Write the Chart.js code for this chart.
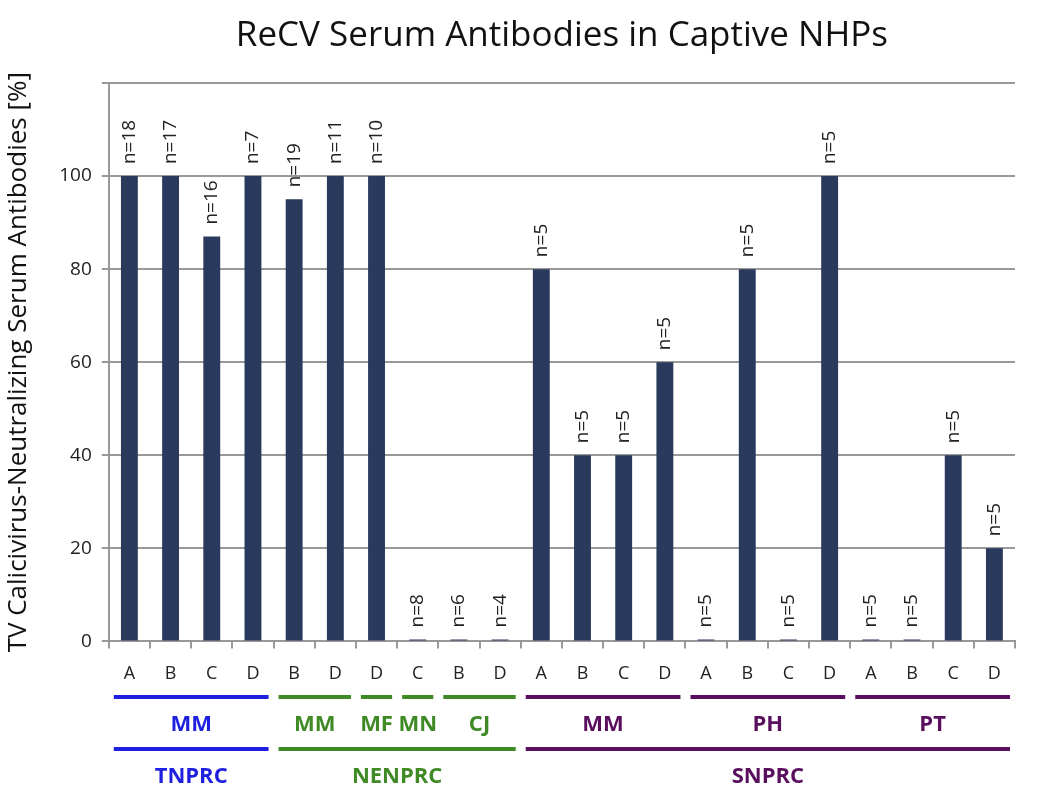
<!DOCTYPE html>
<html>
<head>
<meta charset="utf-8">
<script src="https://cdn.jsdelivr.net/npm/chart.js@4.4.0/dist/chart.umd.min.js"></script>
<style>
  body { margin: 0; background: #fff; }
  #wrap { width: 1050px; height: 797px; }
</style>
</head>
<body>
<div id="wrap"><canvas id="cv" width="1050" height="797"></canvas></div>
<script>
  // letters under each bar
  var cats = ['A','B','C','D','B','D','D','C','B','D','A','B','C','D','A','B','C','D','A','B','C','D'];
  // % with neutralizing antibodies
  var pct = [100,100,87,100,95,100,100,0,0,0,80,40,40,60,0,80,0,100,0,0,40,20];
  // group sizes
  var nums = [18,17,16,7,19,11,10,8,6,4,5,5,5,5,5,5,5,5,5,5,5,5];
  var yTicks = [0,20,40,60,80,100];

  // species row and centre row: [label, first index, last index, colour]
  var species = [
    ['MM',0,3,'#1f1fe0'],['MM',4,5,'#3f8a25'],['MF',6,6,'#3f8a25'],['MN',7,7,'#3f8a25'],['CJ',8,9,'#3f8a25'],
    ['MM',10,13,'#5a0f5e'],['PH',14,17,'#5a0f5e'],['PT',18,21,'#5a0f5e']
  ];
  var centres = [
    ['TNPRC',0,3,'#1f1fe0'],['NENPRC',4,9,'#3f8a25'],['SNPRC',10,21,'#5a0f5e']
  ];

  var FONT = "'Open Sans', 'Liberation Sans', sans-serif";

  var nLabels = {
    id: 'nLabels',
    afterDatasetsDraw(chart) {
      var ctx = chart.ctx, meta = chart.getDatasetMeta(0);
      ctx.save();
      ctx.font = '19px ' + FONT;
      ctx.fillStyle = '#222';
      ctx.textBaseline = 'middle';
      ctx.textAlign = 'left';
      meta.data.forEach(function(bar, i) {
        ctx.save();
        ctx.translate(bar.x, Math.min(bar.y, chart.scales.y.getPixelForValue(0)) - 12);
        ctx.rotate(-Math.PI / 2);
        ctx.fillText('n=' + nums[i], 0, 0);
        ctx.restore();
      });
      ctx.restore();
    }
  };

  var groupRows = {
    id: 'groupRows',
    afterDraw(chart) {
      var ctx = chart.ctx, x = chart.scales.x;
      var band = (x.right - x.left) / cats.length;
      function row(list, yLine, yText) {
        list.forEach(function(g) {
          var x1 = x.getPixelForValue(g[1]) - band / 2 + 5;
          var x2 = x.getPixelForValue(g[2]) + band / 2 - 5;
          ctx.strokeStyle = g[3];
          ctx.lineWidth = 4;
          ctx.beginPath();
          ctx.moveTo(x1, yLine);
          ctx.lineTo(x2, yLine);
          ctx.stroke();
          ctx.fillStyle = g[3];
          ctx.font = 'bold 22px ' + FONT;
          ctx.textAlign = 'center';
          ctx.textBaseline = 'middle';
          ctx.fillText(g[0], (x1 + x2) / 2, yText);
        });
      }
      ctx.save();
      row(species, 697, 725);
      row(centres, 749, 777);
      ctx.restore();
    }
  };

  new Chart(document.getElementById('cv'), {
    type: 'bar',
    data: {
      labels: cats,
      datasets: [{
        data: pct,
        backgroundColor: '#2a3a5c',
        barPercentage: 0.41,
        categoryPercentage: 1,
        minBarLength: 2
      }]
    },
    options: {
      responsive: false,
      animation: false,
      layout: { padding: { left: 3, right: 35, top: 0, bottom: 97 } },
      plugins: {
        legend: { display: false },
        tooltip: { enabled: false },
        title: {
          display: true,
          fullSize: false,
          text: 'ReCV Serum Antibodies in Captive NHPs',
          color: '#111',
          font: { family: FONT, size: 35, weight: 'normal' },
          padding: { top: 15, bottom: 26 }
        }
      },
      scales: {
        y: {
          min: 0, max: 120,
          afterBuildTicks: function(ax) {
            ax.ticks = yTicks.concat([120]).map(function(v) { return { value: v }; });
          },
          ticks: {
            color: '#222',
            font: { family: FONT, size: 19 },
            padding: 10,
            callback: function(v) { return v === 120 ? '' : v; }
          },
          grid: { color: '#999', lineWidth: 2, tickLength: 7, tickColor: '#999' },
          border: { color: '#999', width: 2 },
          title: {
            display: true,
            text: 'TV Calicivirus-Neutralizing Serum Antibodies [%]',
            color: '#111',
            font: { family: FONT, size: 26 },
            padding: { top: 0, bottom: 15 }
          }
        },
        x: {
          offset: true,
          grid: { offset: true, drawOnChartArea: false, tickLength: 7, color: '#999', lineWidth: 2 },
          border: { color: '#999', width: 2 },
          ticks: {
            color: '#222',
            font: { family: FONT, size: 18 },
            padding: 15,
            maxRotation: 0,
            autoSkip: false
          }
        }
      }
    },
    plugins: [nLabels, groupRows]
  });
</script>
</body>
</html>
